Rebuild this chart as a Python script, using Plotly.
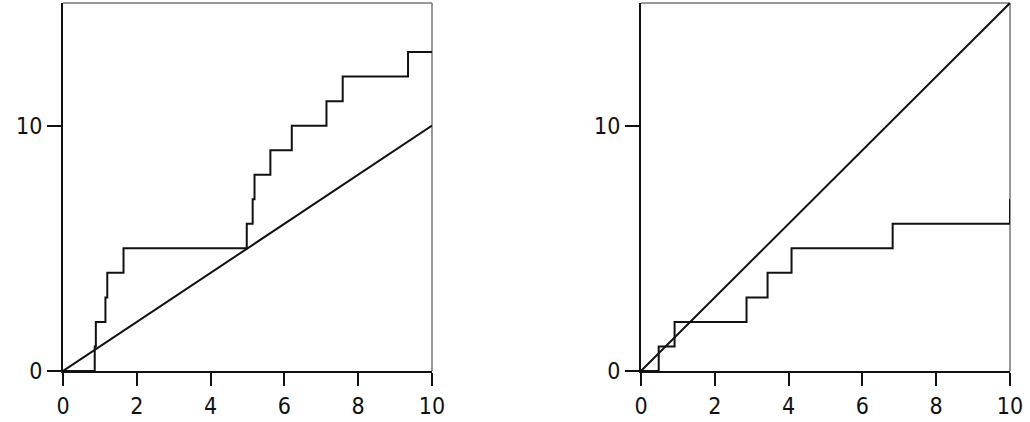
import plotly.graph_objects as go

# ---- data ----
left_step_x = [0, 0.86, 0.89, 1.15, 1.2, 1.64, 4.98, 5.14, 5.19, 5.62, 6.2, 7.14, 7.58, 9.35, 10]
left_step_y = [0, 1, 2, 3, 4, 5, 6, 7, 8, 9, 10, 11, 12, 13, 13]
left_line_x = [0, 10]
left_line_y = [0, 10]

right_step_x = [0, 0.48, 0.91, 2.86, 3.43, 4.08, 6.82, 10]
right_step_y = [0, 1, 2, 3, 4, 5, 6, 7]
right_line_x = [0, 10]
right_line_y = [0, 15]

x_ticks = [0, 2, 4, 6, 8, 10]
y_ticks = [0, 10]

W, H = 1030, 422
lw = 2
col = "#111111"

fig = go.Figure()
fig.add_trace(go.Scatter(x=left_step_x, y=left_step_y, mode="lines", line=dict(shape="hv", color=col, width=lw), xaxis="x", yaxis="y"))
fig.add_trace(go.Scatter(x=left_line_x, y=left_line_y, mode="lines", line=dict(color=col, width=lw), xaxis="x", yaxis="y"))
fig.add_trace(go.Scatter(x=right_step_x, y=right_step_y, mode="lines", line=dict(shape="hv", color=col, width=lw), xaxis="x2", yaxis="y2"))
fig.add_trace(go.Scatter(x=right_line_x, y=right_line_y, mode="lines", line=dict(color=col, width=lw), xaxis="x2", yaxis="y2"))

ybot = (H - 371) / H
ytop = (H - 3) / H
dom_l = [63 / W, 432 / W]
dom_r = [641 / W, 1010 / W]

font = dict(family="DejaVu Sans Condensed, DejaVu Sans", size=23, color="#111111")

def xax(domain, anchor):
    return dict(domain=domain, anchor=anchor, range=[0, 10], tickvals=x_ticks, ticks="outside",
                ticklen=13, tickwidth=2, tickcolor=col, showline=True, linecolor=col, linewidth=2,
                showgrid=False, zeroline=False, tickfont=font, fixedrange=True, automargin=False)

def yax(anchor):
    return dict(domain=[ybot, ytop], anchor=anchor, range=[0, 15], tickvals=y_ticks, ticks="outside",
                ticklen=14, tickwidth=2, tickcolor=col, showline=True, linecolor=col, linewidth=2,
                showgrid=False, zeroline=False, tickfont=font, fixedrange=True, automargin=False)

shapes = []
for xr, yr in (("x domain", "y domain"), ("x2 domain", "y2 domain")):
    shapes.append(dict(type="line", xref=xr, yref=yr, x0=0, x1=1, y0=1, y1=1, line=dict(color="#777777", width=1.5), layer="below"))
    shapes.append(dict(type="line", xref=xr, yref=yr, x0=1, x1=1, y0=0, y1=1, line=dict(color="#777777", width=1.5), layer="below"))

fig.update_layout(
    width=W, height=H, margin=dict(l=0, r=0, t=0, b=0, autoexpand=False),
    paper_bgcolor="white", plot_bgcolor="white", showlegend=False,
    xaxis=xax(dom_l, "y"), yaxis=yax("x"),
    xaxis2=xax(dom_r, "y2"), yaxis2=yax("x2"),
    shapes=shapes,
)

fig.write_html("out.html", config={"displayModeBar": False})
